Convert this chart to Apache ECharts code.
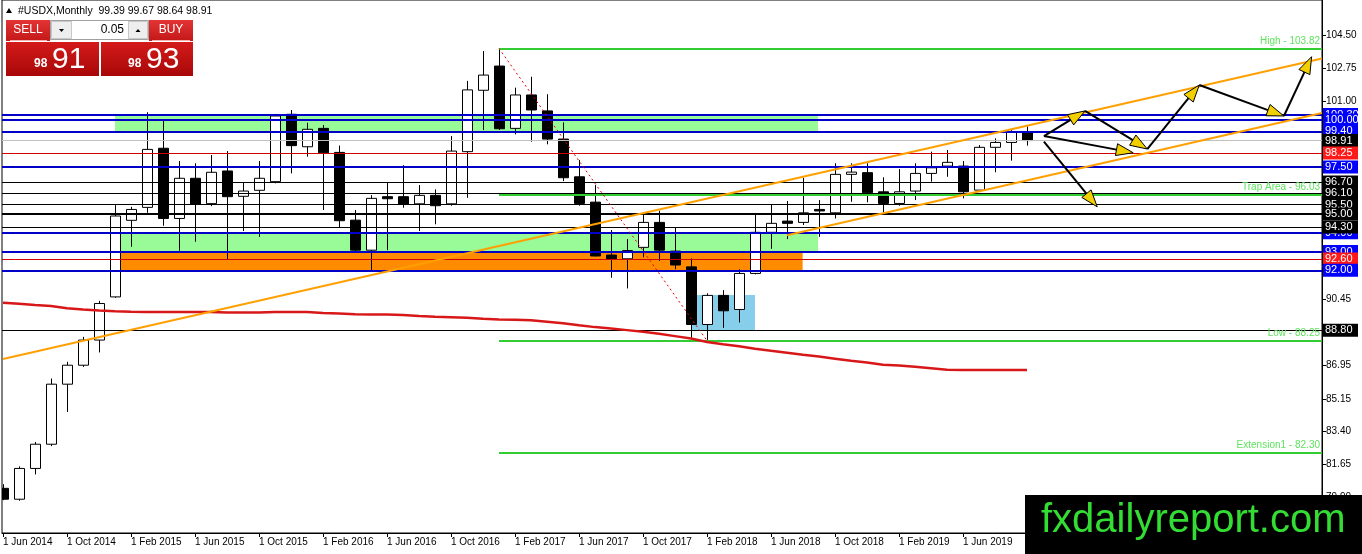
<!DOCTYPE html>
<html>
	<head>
		<meta charset="utf-8" />
		<title>#USDX,Monthly</title>
		<style>
			html, body {
				width: 100%;
				height: 100%;
				margin: 0;
				padding: 0;
				background: #fff;
			}
			#main {
				width: 1362px;
				height: 554px;
			}
		</style>
	</head>
	<body>
		<div id="main"></div>
		<script src="https://cdn.jsdelivr.net/npm/echarts@6/dist/echarts.min.js"></script>
		<script>
			// monthly bars, index 0 = Jun 2014, index 64 = Oct 2019
			var opens = [80.38, 79.80, 81.44, 82.73, 85.93, 86.94, 88.28, 90.58, 94.66, 95.35,
				98.50, 94.76, 96.90, 95.55, 97.29, 95.94, 96.26, 96.72, 100.31, 98.58,
				99.56, 98.28, 94.67, 93.07, 95.92, 95.92, 95.54, 95.99, 95.54, 98.32,
				101.59, 102.88, 99.56, 101.34, 100.49, 98.99, 96.98, 95.63, 92.81, 92.61,
				93.22, 94.55, 93.02, 92.18, 89.11, 90.66, 89.91, 91.83, 94.02, 94.62,
				94.55, 95.24, 95.06, 97.11, 97.20, 96.18, 95.56, 96.22, 97.16, 97.55,
				97.55, 96.27, 98.55, 98.81, 99.39];
			var highs = [80.60, 81.55, 82.85, 86.23, 87.12, 88.45, 90.37, 95.47, 95.38, 100.42,
				99.95, 97.82, 97.70, 98.14, 98.35, 96.66, 97.82, 100.33, 100.54, 99.86,
				99.74, 98.64, 95.21, 96.00, 96.66, 97.60, 96.54, 96.31, 99.15, 102.09,
				103.68, 103.82, 101.73, 102.31, 101.38, 99.88, 97.87, 96.54, 94.14, 93.66,
				95.03, 95.17, 94.26, 92.63, 90.77, 90.94, 92.05, 94.98, 95.51, 95.69,
				96.93, 95.74, 97.70, 97.70, 97.70, 96.95, 97.39, 97.70, 98.32, 98.41,
				97.82, 98.67, 99.03, 99.47, 99.67];
			var lows = [79.75, 79.72, 81.12, 82.63, 84.45, 86.85, 87.62, 90.53, 93.25, 95.06,
				94.37, 93.04, 93.52, 95.42, 92.58, 94.09, 93.78, 96.63, 97.16, 98.05,
				95.21, 94.26, 92.95, 91.96, 93.07, 95.33, 94.09, 94.45, 95.44, 95.86,
				99.47, 99.47, 99.24, 98.85, 98.71, 96.75, 95.44, 92.74, 91.60, 91.03,
				92.69, 92.50, 92.06, 88.40, 88.25, 88.93, 89.22, 91.78, 93.14, 93.66,
				94.41, 93.78, 94.76, 95.65, 95.62, 95.03, 95.44, 95.74, 96.72, 96.98,
				95.83, 96.22, 97.22, 97.84, 98.64];
			var closes = [79.80, 81.44, 82.73, 85.93, 86.94, 88.28, 90.23, 94.89, 95.24, 98.44,
				94.76, 96.90, 95.53, 97.22, 95.92, 96.22, 96.90, 100.22, 98.64, 99.51,
				98.26, 94.64, 93.07, 95.83, 95.81, 95.53, 95.99, 95.44, 98.35, 101.61,
				102.40, 99.54, 101.34, 100.54, 98.99, 96.93, 95.56, 92.76, 92.60, 93.05,
				94.55, 93.07, 92.28, 89.11, 90.66, 89.84, 91.83, 94.02, 94.50, 94.50,
				95.06, 95.17, 97.11, 97.23, 96.13, 95.56, 96.18, 97.16, 97.46, 97.75,
				96.18, 98.55, 98.81, 99.38, 98.91];
			// red moving average
			var maLine = [90.27, 90.22, 90.15, 90.09, 89.98, 89.91, 89.86, 89.82, 89.79, 89.77,
				89.77, 89.77, 89.77, 89.77, 89.75, 89.75, 89.75, 89.77, 89.77, 89.77,
				89.72, 89.69, 89.66, 89.64, 89.64, 89.61, 89.56, 89.52, 89.50, 89.47,
				89.42, 89.38, 89.36, 89.34, 89.26, 89.18, 89.07, 88.97, 88.90, 88.81,
				88.72, 88.62, 88.49, 88.36, 88.18, 88.06, 87.95, 87.82, 87.71, 87.61,
				87.50, 87.40, 87.29, 87.18, 87.08, 86.97, 86.92, 86.86, 86.78, 86.70,
				86.68, 86.68, 86.68, 86.68, 86.68];

			var tickMonths = [0, 4, 8, 12, 16, 20, 24, 28, 32, 36, 40, 44, 48, 52, 56, 60, 64];
			var tickLabels = ['1 Jun 2014', '1 Oct 2014', '1 Feb 2015', '1 Jun 2015', '1 Oct 2015', '1 Feb 2016',
				'1 Jun 2016', '1 Oct 2016', '1 Feb 2017', '1 Jun 2017', '1 Oct 2017', '1 Feb 2018',
				'1 Jun 2018', '1 Oct 2018', '1 Feb 2019', '1 Jun 2019', '1 Oct 2019'];
			var priceTicks = [104.50, 102.75, 101.00, 90.45, 86.95, 85.15, 83.40, 81.65, 79.90];

			// horizontal levels with their price boxes
			var levels = [100.30, 100.00, 99.40, 98.91, 98.25, 97.50, 96.70, 96.10, 95.50, 95.00, 94.00, 94.30, 93.00, 92.60, 92.00, 88.80];
			var levelKinds = ['blue', 'blue', 'blue', 'price', 'red', 'blue', 'black', 'black', 'black', 'bold', 'blue', 'black', 'blue', 'red', 'blue', 'black'];

			// fibo levels, drawn from the Jan 2017 bar
			var fibNames = ['High', 'Trap Area', 'Low', 'Extension1'];
			var fibLevels = [103.82, 96.03, 88.25, 82.30];
			var fibFrom = 31;
			var fibSwing = [[31, 103.82], [44, 88.25]];

			// zones: [from, to, top, bottom]
			var zoneGreenTop = [7.0, 50.94, 100.30, 99.40];
			var zoneGreenLow = [7.36, 50.94, 94.00, 93.00];
			var zoneOrange = [7.36, 49.98, 93.00, 92.00];
			var zoneBlue = [43.04, 47.0, 90.68, 88.81];

			// channel lines
			var channelUpper = [[0, 87.27], [82.44, 103.28]];
			var channelLower = [[49, 93.87], [82.44, 100.38]];

			// projection arrows [x1, y1, x2, y2]
			var arrowLegs = [
				[65.06, 99.15, 67.63, 100.49],
				[65.06, 99.15, 70.64, 98.26],
				[67.63, 100.49, 71.52, 98.46],
				[71.52, 98.46, 74.77, 101.87],
				[74.77, 101.87, 80.06, 100.22],
				[80.06, 100.22, 81.79, 103.38],
				[65.06, 98.85, 68.39, 95.38]
			];

			var FONT = '"Liberation Sans", Arial, sans-serif';
			var kindStyle = {
				blue: { line: '#0000C8', w: 2, box: '#0000FF' },
				black: { line: '#000000', w: 1, box: '#000000' },
				bold: { line: '#000000', w: 2, box: '#000000' },
				red: { line: '#D00000', w: 1, box: '#FF1A1A' },
				price: { line: '#C0C0C0', w: 1, box: '#000000' }
			};

			var candleData = opens.map(function (o, k) {
				return [k, o, closes[k], lows[k], highs[k]];
			});
			var maData = maLine.map(function (v, k) { return [k, v]; });

			var levelLines = levels.map(function (v, k) {
				var s = kindStyle[levelKinds[k]];
				return {
					yAxis: v,
					lineStyle: { color: s.line, width: s.w, type: 'solid' },
					label: {
						show: true, position: 'end', distance: 1,
						formatter: v.toFixed(2),
						color: '#fff', backgroundColor: s.box,
						fontFamily: FONT, fontSize: 11, lineHeight: 12,
						padding: [1, 2, 0, 2], width: 31
					}
				};
			});

			var fibLines = fibLevels.map(function (v, k) {
				return [{
					coord: [fibFrom, v],
					lineStyle: { color: '#32CD32', width: 2, type: 'solid' },
					label: {
						show: true, position: 'insideEndTop', distance: 2,
						formatter: fibNames[k] + ' - ' + v.toFixed(2),
						color: '#5FE35F', fontFamily: FONT, fontSize: 10
					}
				}, { coord: [82.44, v] }];
			});

			function zoneArea(z, color) {
				return [{ coord: [z[0], z[2]], itemStyle: { color: color } }, { coord: [z[1], z[3]] }];
			}

			var chart = echarts.init(document.getElementById('main'));
			var option = {
				animation: false,
				backgroundColor: '#fff',
				grid: { left: 2, right: 40, top: 0, bottom: 21, show: true, borderColor: '#000', borderWidth: 1 },
				xAxis: {
					type: 'value', min: -0.0625, max: 82.44,
					axisLine: { show: true, onZero: false, lineStyle: { color: '#000', width: 1 } },
					axisTick: { show: true, length: 4, lineStyle: { color: '#000' }, customValues: tickMonths },
					axisLabel: {
						customValues: tickMonths, align: 'left', margin: 4,
						color: '#000', fontFamily: FONT, fontSize: 10,
						formatter: function (v) { return tickLabels[tickMonths.indexOf(Math.round(v))]; }
					},
					splitLine: { show: false }
				},
				yAxis: {
					type: 'value', position: 'right', min: 78.0, max: 106.4,
					axisLine: { show: true, onZero: false, lineStyle: { color: '#000', width: 1 } },
					axisTick: { show: true, length: 4, lineStyle: { color: '#000' }, customValues: priceTicks },
					axisLabel: {
						customValues: priceTicks, margin: 4,
						color: '#000', fontFamily: FONT, fontSize: 10,
						formatter: function (v) { return v.toFixed(2); }
					},
					splitLine: { show: false }
				},
				series: [
					{
						// background zones
						type: 'line', data: [], z: 1, silent: true,
						markArea: {
							silent: true,
							data: [
								zoneArea(zoneGreenTop, '#98FB98'),
								zoneArea(zoneGreenLow, '#98FB98'),
								zoneArea(zoneOrange, '#FF8C00'),
								zoneArea(zoneBlue, '#87CEEB')
							]
						}
					},
					{
						type: 'custom', z: 3, clip: true, silent: true,
						data: candleData,
						encode: { x: 0, y: [1, 2, 3, 4] },
						renderItem: function (params, api) {
							var i = api.value(0), o = api.value(1), c = api.value(2);
							var pO = api.coord([i, o]), pC = api.coord([i, c]);
							var pL = api.coord([i, api.value(3)]), pH = api.coord([i, api.value(4)]);
							var x = Math.round(pO[0]) + 0.5;
							var top = Math.min(pO[1], pC[1]), bot = Math.max(pO[1], pC[1]);
							var up = c > o;
							return {
								type: 'group',
								children: [
									{ type: 'line', shape: { x1: x, y1: pH[1], x2: x, y2: pL[1] }, style: { stroke: '#000', lineWidth: 1 } },
									{ type: 'rect', shape: { x: x - 5, y: top, width: 10, height: Math.max(bot - top, 1.5) },
										style: { fill: up ? '#fff' : '#000', stroke: '#000', lineWidth: 1 } }
								]
							};
						}
					},
					{
						// horizontal levels and fibo
						type: 'line', data: [], z: 4, clip: false, silent: true,
						markLine: {
							silent: true, symbol: ['none', 'none'], precision: 2,
							data: levelLines.concat(fibLines)
						}
					},
					{
						type: 'line', data: fibSwing, z: 5, silent: true, showSymbol: false,
						lineStyle: { color: '#E00000', width: 1, type: [2, 3] }
					},
					{
						type: 'line', data: maData, z: 5, silent: true, showSymbol: false,
						lineStyle: { color: '#D81818', width: 2.5 }
					},
					{
						type: 'line', data: channelUpper, z: 6, silent: true, showSymbol: false,
						lineStyle: { color: '#FFA000', width: 2 }
					},
					{
						type: 'line', data: channelLower, z: 6, silent: true, showSymbol: false,
						lineStyle: { color: '#FFA000', width: 2 }
					},
					{
						type: 'custom', z: 8, silent: true,
						data: arrowLegs,
						encode: { x: [0, 2], y: [1, 3] },
						renderItem: function (params, api) {
							var a = api.coord([api.value(0), api.value(1)]);
							var b = api.coord([api.value(2), api.value(3)]);
							var dx = b[0] - a[0], dy = b[1] - a[1];
							var len = Math.sqrt(dx * dx + dy * dy);
							var ux = dx / len, uy = dy / len;
							var hl = 17, hw = 6;
							var bx = b[0] - ux * hl, by = b[1] - uy * hl;
							return {
								type: 'group',
								children: [
									{ type: 'line', shape: { x1: a[0], y1: a[1], x2: bx, y2: by }, style: { stroke: '#000', lineWidth: 2 } },
									{ type: 'polygon', shape: { points: [b, [bx - uy * hw, by + ux * hw], [bx + uy * hw, by - ux * hw]] },
										style: { fill: '#F2D000', stroke: '#000', lineWidth: 1 } }
								]
							};
						}
					}
				],
				graphic: [
					{ type: 'polygon', z: 100, shape: { points: [[6, 13], [12, 13], [9, 8]] }, style: { fill: '#000' } },
					{ type: 'text', z: 100, x: 18, y: 11, style: {
						text: '#USDX,Monthly  ' + [opens[64], highs[64], lows[64], closes[64]].map(function (v) { return v.toFixed(2); }).join(' '),
						fill: '#000', fontFamily: FONT, fontSize: 10.5, verticalAlign: 'middle' } },
					// one click trading panel
					{ type: 'rect', z: 100, shape: { x: 6, y: 20, width: 44, height: 21 },
						style: { fill: new echarts.graphic.LinearGradient(0, 0, 0, 1, [{ offset: 0, color: '#E23434' }, { offset: 1, color: '#C41818' }]) } },
					{ type: 'line', z: 101, shape: { x1: 10, y1: 40.5, x2: 47, y2: 40.5 }, style: { stroke: '#F4B0B0', lineWidth: 1 } },
					{ type: 'text', z: 101, x: 28, y: 30, style: { text: 'SELL', fill: '#fff', fontFamily: FONT, fontSize: 12, align: 'center', verticalAlign: 'middle' } },
					{ type: 'rect', z: 100, shape: { x: 50.5, y: 20.5, width: 98, height: 19 }, style: { fill: '#fff', stroke: '#A0A0A0', lineWidth: 1 } },
					{ type: 'rect', z: 100, shape: { x: 51.5, y: 21.5, width: 20, height: 17 }, style: { fill: '#EEEEEE', stroke: '#C8C8C8', lineWidth: 1 } },
					{ type: 'rect', z: 100, shape: { x: 128.5, y: 21.5, width: 19, height: 17 }, style: { fill: '#EEEEEE', stroke: '#C8C8C8', lineWidth: 1 } },
					{ type: 'polygon', z: 101, shape: { points: [[59, 29], [64, 29], [61.5, 32]] }, style: { fill: '#000' } },
					{ type: 'polygon', z: 101, shape: { points: [[135.5, 32], [140.5, 32], [138, 29]] }, style: { fill: '#000' } },
					{ type: 'text', z: 101, x: 124, y: 30, style: { text: '0.05', fill: '#000', fontFamily: FONT, fontSize: 12, align: 'right', verticalAlign: 'middle' } },
					{ type: 'rect', z: 100, shape: { x: 149, y: 20, width: 44, height: 21 },
						style: { fill: new echarts.graphic.LinearGradient(0, 0, 0, 1, [{ offset: 0, color: '#E23434' }, { offset: 1, color: '#C41818' }]) } },
					{ type: 'line', z: 101, shape: { x1: 152, y1: 40.5, x2: 190, y2: 40.5 }, style: { stroke: '#F4B0B0', lineWidth: 1 } },
					{ type: 'text', z: 101, x: 171, y: 30, style: { text: 'BUY', fill: '#fff', fontFamily: FONT, fontSize: 12, align: 'center', verticalAlign: 'middle' } },
					{ type: 'rect', z: 100, shape: { x: 6, y: 42, width: 93, height: 34 },
						style: { fill: new echarts.graphic.LinearGradient(0, 0, 0, 1, [{ offset: 0, color: '#D41A1A' }, { offset: 1, color: '#A80808' }]) } },
					{ type: 'rect', z: 100, shape: { x: 101, y: 42, width: 92, height: 34 },
						style: { fill: new echarts.graphic.LinearGradient(0, 0, 0, 1, [{ offset: 0, color: '#D41A1A' }, { offset: 1, color: '#A80808' }]) } },
					{ type: 'text', z: 101, x: 34, y: 70, style: { text: '98', fill: '#fff', fontFamily: FONT, fontSize: 12, fontWeight: 'bold', verticalAlign: 'bottom' } },
					{ type: 'text', z: 101, x: 52, y: 60, style: { text: '91', fill: '#fff', fontFamily: FONT, fontSize: 30, verticalAlign: 'middle' } },
					{ type: 'text', z: 101, x: 128, y: 70, style: { text: '98', fill: '#fff', fontFamily: FONT, fontSize: 12, fontWeight: 'bold', verticalAlign: 'bottom' } },
					{ type: 'text', z: 101, x: 146, y: 60, style: { text: '93', fill: '#fff', fontFamily: FONT, fontSize: 30, verticalAlign: 'middle' } },
					// watermark
					{ type: 'rect', z: 110, shape: { x: 1025, y: 495, width: 337, height: 59 }, style: { fill: '#000' } },
					{ type: 'text', z: 111, x: 1041, y: 521, style: { text: 'fxdailyreport.com', fill: '#33DD33', fontFamily: FONT, fontSize: 40, verticalAlign: 'middle' } }
				]
			};
			chart.setOption(option);
		</script>
	</body>
</html>
